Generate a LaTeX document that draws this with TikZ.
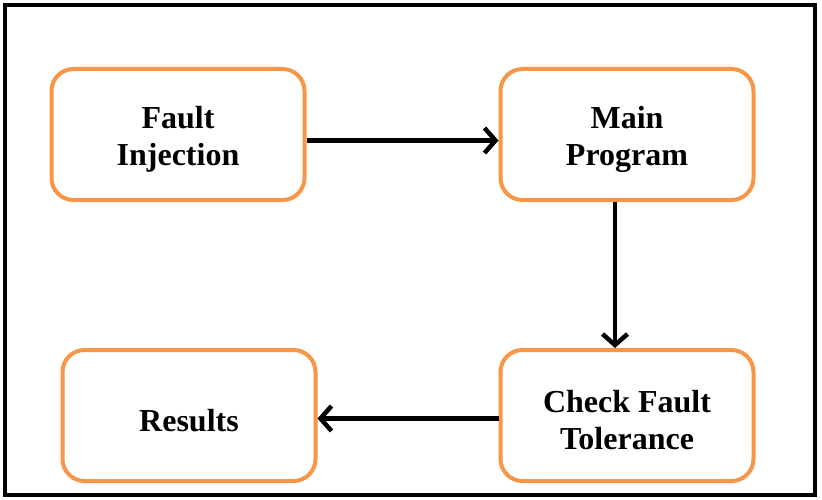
\documentclass[tikz,border=0pt]{standalone}
\usepackage{fontspec}
\setmainfont{Liberation Serif}
\usepackage{tikz}
\usetikzlibrary{positioning}
\usetikzlibrary{arrows.meta}
\definecolor{stageorange}{RGB}{247,150,70}
\newcommand{\capstrut}{\rule{0pt}{32pt}}

\tikzset{
  stage/.style={draw=stageorange, line width=4pt, rounded corners=22pt,
    minimum width=253pt, minimum height=131pt, align=center,
    font=\fontsize{32}{37}\selectfont\bfseries},
  flow/.style={line width=4.5pt, -{Straight Barb[length=11pt,width=25pt]}}
}

\begin{document}
\begin{tikzpicture}[x=1pt,y=-1pt]
\useasboundingbox (0,0) rectangle (822,500);
\draw[line width=4pt] (5,5) rectangle (815,495);

\node (faultinj) at (178,134.5) [stage] {\capstrut Fault\\Injection};
\node (mainprog) [right=192pt of faultinj] [stage] {\capstrut Main\\Program};
\node (checkft) [below=146pt of mainprog] [stage] {\capstrut Check Fault\\Tolerance};
\node (results) [left=181pt of checkft] [stage] {\capstrut Results};

\draw[flow] ([yshift=-6pt]faultinj.east) -- ([yshift=-6pt]mainprog.west);
\draw[flow] ([xshift=-12pt]mainprog.south) -- ([xshift=-12pt]checkft.north);
\draw[flow] ([yshift=-3pt]checkft.west) -- ([yshift=-3pt]results.east);
\end{tikzpicture}
\end{document}
